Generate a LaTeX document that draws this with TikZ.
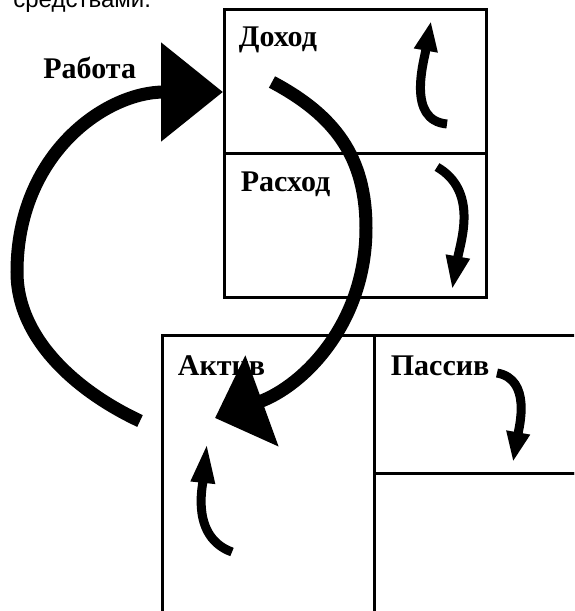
\documentclass[tikz,border=0pt]{standalone}
\usepackage{fontspec}
\setmainfont{Liberation Serif}
\newfontfamily\capfont{Liberation Sans}
\usetikzlibrary{arrows.meta}

\begin{document}
\begin{tikzpicture}[x=0.5pt,y=0.5pt]
    \tikzstyle{cell}=[draw, rectangle, line width=1.5pt, inner sep=0pt]
    \tikzstyle{lbl}=[anchor=base west, inner sep=0pt, font=\fontsize{15}{17}\selectfont\bfseries]
    \tikzstyle{bigarrow}=[line width=6.5pt]
    \tikzstyle{smallarrow}=[line width=4.5pt]
    \path[use as bounding box, clip] (0,0) rectangle (574,-611);
    \node[anchor=base west, inner sep=0pt, font=\capfont\fontsize{12}{14}\selectfont] (caption) at (13,-7) {средствами.};
    % balance of income and expense
    \node[cell, minimum width=131pt, minimum height=72pt] (dohod) at (355,-81) {};
    \node[cell, minimum width=131pt, minimum height=72pt] (rashod) at (355,-225) {};
    % balance sheet
    \node[cell, minimum width=106pt, minimum height=152.5pt] (aktiv) at (268,-487.5) {};
    \node[cell, minimum width=113pt, minimum height=69pt] (passiv) at (487,-404) {};
    \node[cell, minimum width=113pt, minimum height=83.5pt] (rest) at (487,-556.5) {};
    \node[lbl] (dohodL) at ([shift={(16,-39)}]dohod.north west) {Доход};
    \node[lbl] (rashodL) at ([shift={(18,-40)}]rashod.north west) {Расход};
    \node[lbl] (aktivL) at ([shift={(17,-42)}]aktiv.north west) {Актив};
    \node[lbl] (passivL) at ([shift={(18,-42)}]passiv.north west) {Пассив};
    \node[lbl] (rabota) at (43,-78) {Работа};
    % big loops
    \coordinate (wTail) at (140,-421);
    \coordinate (wLeft) at (17,-272);
    \coordinate (wTip) at (223,-92);
    \draw[bigarrow, -{Triangle[length=31pt,width=48pt]}] (wTail) to[out=155, in=270, looseness=0.9] (wLeft)
      to[out=90, in=180, looseness=1.1] (wTip);
    \coordinate (dTail) at (272,-82);
    \coordinate (dRight) at (366,-228);
    \coordinate (dTip) at (215,-418);
    \draw[bigarrow, -{Triangle[length=25pt,width=47pt]}] (dTail) to[out=-28, in=90, looseness=1.05] (dRight)
      to[out=270, in=20, looseness=1.0] (dTip);
    % small turns
    \coordinate (inTail) at (447,-124);
    \coordinate (inTip) at (431,-21);
    \draw[smallarrow, -{Triangle[length=15pt,width=11pt]}] (inTail) to[out=175, in=260] (inTip);
    \coordinate (exTail) at (437,-167);
    \coordinate (exTip) at (452,-290);
    \draw[smallarrow, -{Triangle[length=17pt,width=11pt]}] (exTail) to[out=-30, in=80] (exTip);
    \coordinate (asTail) at (232,-552);
    \coordinate (asTip) at (207,-443);
    \draw[smallarrow, -{Triangle[length=20pt,width=11pt]}] (asTail) to[out=160, in=264] (asTip);
    \coordinate (lbTail) at (497,-373);
    \coordinate (lbTip) at (513,-462);
    \draw[smallarrow, -{Triangle[length=15pt,width=11pt]}] (lbTail) to[out=-10, in=80] (lbTip);
\end{tikzpicture}
\end{document}
